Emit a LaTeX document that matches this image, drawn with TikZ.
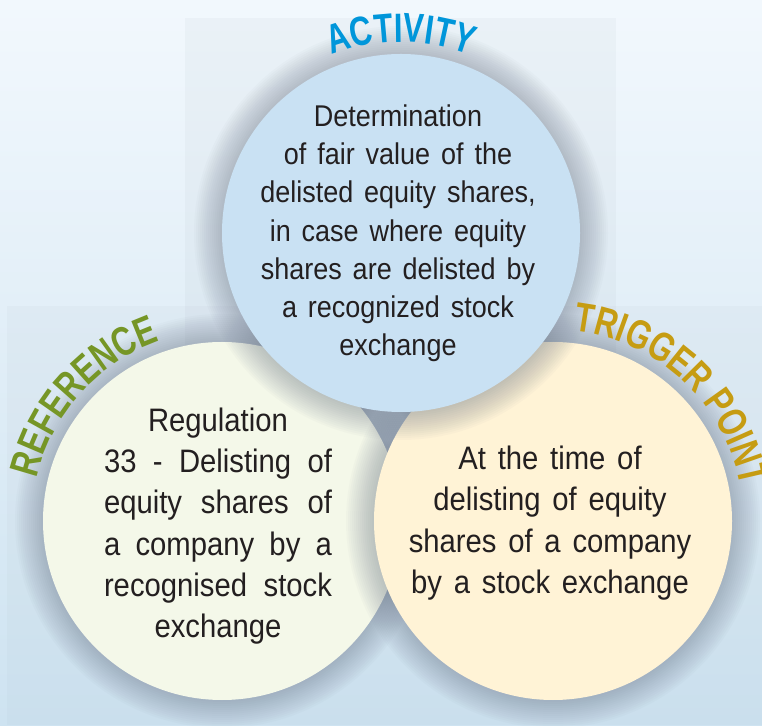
\documentclass[tikz,border=0pt]{standalone}
\usepackage{fontspec}
\setmainfont{Liberation Sans}[FakeStretch=0.9, WordSpace=1.45]
\newfontfamily\lblfam{Liberation Sans}[FakeStretch=0.76]
\usetikzlibrary{decorations.text,calc}
\definecolor{bgtop}{RGB}{242,248,253}
\definecolor{bgbot}{RGB}{206,227,241}
\definecolor{tilec}{RGB}{120,130,140}
\definecolor{shadowc}{RGB}{105,115,135}
\definecolor{topfill}{RGB}{201,225,243}
\definecolor{leftfill}{RGB}{244,248,233}
\definecolor{rightfill}{RGB}{255,243,214}
\definecolor{bodyc}{RGB}{35,31,32}
\definecolor{actc}{RGB}{0,150,218}
\definecolor{refc}{RGB}{118,150,38}
\definecolor{trigc}{RGB}{198,156,18}
\newcommand\lblfont{\lblfam\bfseries\fontsize{41}{41}\selectfont}
\begin{document}
\begin{tikzpicture}[x=1pt,y=1pt,
  bodytext/.style={align=center, text=bodyc, inner sep=0pt, font=\fontsize{30}{38.1}\selectfont},
  lowtext/.style={align=center, text=bodyc, inner sep=0pt, font=\fontsize{32.5}{41.2}\selectfont},
  disc/.style={circle, inner sep=0pt, minimum size=358pt},
  glow/.style={shadowc, opacity=0.033}]
\useasboundingbox (0,0) rectangle (762,725);
\clip (0,0) rectangle (762,725);
\shade[top color=bgtop, bottom color=bgbot] (0,0) rectangle (762,725);
\fill[tilec, opacity=0.05] (185,277) rectangle (616,707);
\fill[tilec, opacity=0.04] (7,0) rectangle (762,419);
\coordinate (T) at (401,492);
\coordinate (L) at (222,204);
\coordinate (R) at (553,204);
\foreach \k in {1,...,14} \fill[glow] (L) circle[radius={179+2*\k}];
\node[disc, fill=leftfill] (leftdisc) at (L) {};
\foreach \k in {1,...,14} \fill[glow] (R) circle[radius={179+2*\k}];
\node[disc, fill=rightfill] (rightdisc) at (R) {};
\foreach \k in {1,...,14} \fill[glow] (T) circle[radius={179+2*\k}];
\node[disc, fill=topfill] (topdisc) at (T) {};
\node[bodytext] (acttext) at (398,491.7) {Determination\\of fair value of the\\delisted equity shares,\\in case where equity\\shares are delisted by\\a recognized stock\\exchange};
\node[lowtext] (reftext) at (218,199) {Regulation\\\makebox[228pt][s]{33 - Delisting of}\\\makebox[228pt][s]{equity shares of}\\\makebox[228pt][s]{a company by a}\\\makebox[228pt][s]{recognised stock}\\exchange};
\node[lowtext] (trigtext) at (550,202) {At the time of\\delisting of equity\\shares of a company\\by a stock exchange};
\path[decorate, decoration={text along path, text align=center, text={|\lblfont\color{actc}|ACTIVITY}}] ($(T)+(135:191)$) arc[start angle=135, end angle=45, radius=191];
\path[decorate, decoration={text along path, text align=center, text={|\lblfont\color{refc}|REFERENCE}}] ($(L)+(183:190)$) arc[start angle=183, end angle=93, radius=190];
\path[decorate, decoration={text along path, text align=center, text={|\lblfont\color{trigc}|TRIGGER POINT}}] ($(R)+(95:191)$) arc[start angle=95, end angle=-1, radius=191];
\end{tikzpicture}
\end{document}
